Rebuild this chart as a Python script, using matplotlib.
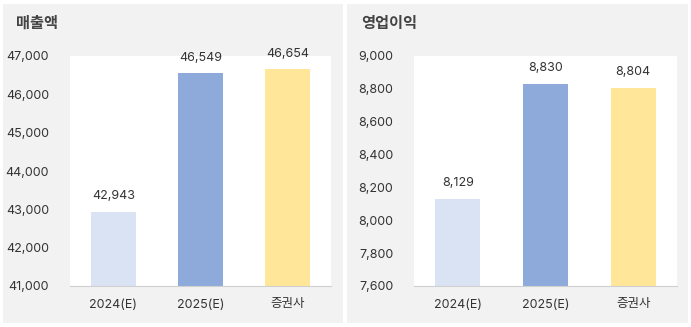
import matplotlib
matplotlib.use("Agg")
import matplotlib.pyplot as plt
from matplotlib.patches import Rectangle
from matplotlib.ticker import FuncFormatter

plt.rcParams['font.family'] = ['Inter', 'Noto Sans CJK KR', 'DejaVu Sans']

categories = ['2024(E)', '2025(E)', '증권사']
sales = [42943, 46549, 46654]
profit = [8129, 8830, 8804]
sales_ticks = [41000, 42000, 43000, 44000, 45000, 46000, 47000]
profit_ticks = [7600, 7800, 8000, 8200, 8400, 8600, 8800, 9000]
titles = ['매출액', '영업이익']
bar_colors = ['#d9e3f3', '#8eaadb', '#ffe699']

W, H = 691, 327
fig = plt.figure(figsize=(W / 100, H / 100), dpi=100, facecolor='white')


def px(x0, y0, x1, y1):
    # pixel box -> figure fraction [left, bottom, width, height]
    return [x0 / W, 1 - y1 / H, (x1 - x0) / W, (y1 - y0) / H]


panels = [(3, 4, 343, 323), (347, 4, 688, 323)]
for p in panels:
    l, b, w, h = px(*p)
    fig.add_artist(Rectangle((l, b), w, h, transform=fig.transFigure,
                             facecolor='#f2f2f2', edgecolor='none', zorder=-10))

axes_boxes = [(70, 56, 331, 286), (414, 56, 677, 286)]
data = [(sales, sales_ticks), (profit, profit_ticks)]
title_x = [16, 361]

for i in range(2):
    vals, ticks = data[i]
    ax = fig.add_axes(px(*axes_boxes[i]))
    ax.set_facecolor('white')
    xs = range(len(categories))
    ax.bar(xs, vals, width=0.51, color=bar_colors, zorder=2)
    ax.set_xlim(-0.5, 2.5)
    ax.set_ylim(ticks[0], ticks[-1])
    ax.set_yticks(ticks)
    ax.yaxis.set_major_formatter(FuncFormatter(lambda v, _: f'{int(v):,}'))
    ax.set_xticks(list(xs))
    ax.set_xticklabels(categories)
    for s in ['top', 'right', 'left']:
        ax.spines[s].set_visible(False)
    ax.spines['bottom'].set_color('#d0d0d0')
    ax.spines['bottom'].set_linewidth(0.8)
    ax.tick_params(axis='both', length=0, labelsize=9, colors='#333333')
    ax.tick_params(axis='y', pad=15)
    ax.tick_params(axis='x', pad=9)
    for x, v in zip(xs, vals):
        ax.annotate(f'{v:,}', (x, v), xytext=(0, 7), textcoords='offset points',
                    ha='center', va='bottom', fontsize=9, color='#333333')
    fig.text(title_x[i] / W, 1 - 23 / H, titles[i], fontsize=11, fontweight='bold',
             color='#444444', va='center', ha='left',
             family=['Noto Sans CJK KR', 'DejaVu Sans'])

fig.savefig('out.png', dpi=100, facecolor='white')
